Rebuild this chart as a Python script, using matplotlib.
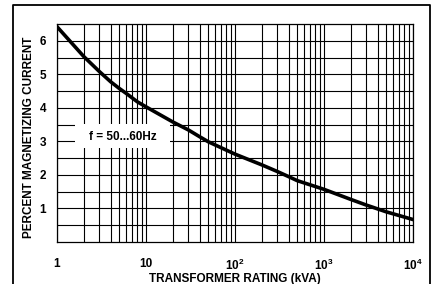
import numpy as np
import matplotlib.pyplot as plt
from matplotlib.patches import Rectangle
from matplotlib.ticker import LogLocator, FixedLocator, NullFormatter

plt.rcParams['font.family'] = ['Liberation Sans', 'DejaVu Sans']
plt.rcParams['font.weight'] = 'bold'
plt.rcParams['mathtext.fontset'] = 'custom'
plt.rcParams['mathtext.bf'] = 'Liberation Sans:bold'
plt.rcParams['mathtext.rm'] = 'Liberation Sans:bold'
plt.rcParams['mathtext.default'] = 'bf'

# curve
rating_kva = [1, 2, 3, 4, 5, 6, 8, 10, 20, 30, 40, 50, 70, 100, 200, 300, 400,
              500, 1000, 2000, 3000, 5000, 10000]
magnetizing_pct = [6.42, 5.53, 5.08, 4.78, 4.58, 4.43, 4.18, 4.03, 3.58, 3.34, 3.14,
                   2.99, 2.81, 2.62, 2.30, 2.10, 1.95, 1.83, 1.57, 1.27, 1.10, 0.90, 0.67]

xticks = [1, 10, 100, 1000, 10000]
xticklabels = ['1', '10', '$10^2$', '$10^3$', '$10^4$']
yticks = [1, 2, 3, 4, 5, 6]

fig = plt.figure(figsize=(4.33, 2.84), dpi=100)
# outer frame
fig.add_artist(plt.Line2D([13/433, 13/433, 430/433, 430/433],
                          [0, 1 - 5/284, 1 - 5/284, 0],
                          color='black', lw=1.3, transform=fig.transFigure))

ax = fig.add_axes([57/433, 42/284, 356/433, 218/284])
ax.set_xscale('log')
ax.set_xlim(1, 1e4)
ax.set_ylim(0, 6.5)

ax.xaxis.set_major_locator(FixedLocator(xticks))
ax.set_xticklabels(xticklabels)
ax.xaxis.set_minor_locator(LogLocator(base=10, subs=np.arange(2, 10)))
ax.xaxis.set_minor_formatter(NullFormatter())
ax.set_yticks(yticks)
ax.yaxis.set_minor_locator(FixedLocator(np.arange(0.5, 6.5, 0.5)))

ax.set_axisbelow(True)
ax.grid(True, which='both', color='black', lw=0.8)
ax.tick_params(which='both', length=0, labelsize=8.5)
ax.tick_params(axis='x', pad=11.5)
ax.tick_params(axis='y', pad=8)
for s in ax.spines.values():
    s.set_linewidth(0.9)

# label box
ax.add_patch(Rectangle((0.05, 0.431), 0.268, 0.11, transform=ax.transAxes,
                       facecolor='white', edgecolor='none', zorder=1))
ax.text(0.185, 0.483, 'f = 50...60Hz', transform=ax.transAxes, ha='center',
        va='center', fontsize=8.5, fontweight='bold', zorder=3)

ax.plot(rating_kva, magnetizing_pct, color='black', lw=2.6, zorder=2,
        solid_joinstyle='round')

ax.set_xlabel('TRANSFORMER RATING (kVA)', fontsize=8.5, fontweight='bold')
ax.set_ylabel('PERCENT MAGNETIZING CURRENT', fontsize=8.5, fontweight='bold')
ax.xaxis.set_label_coords(0.5, -0.14)
ax.yaxis.set_label_coords(-0.062, 0.48)

fig.savefig('out.png', dpi=100)
